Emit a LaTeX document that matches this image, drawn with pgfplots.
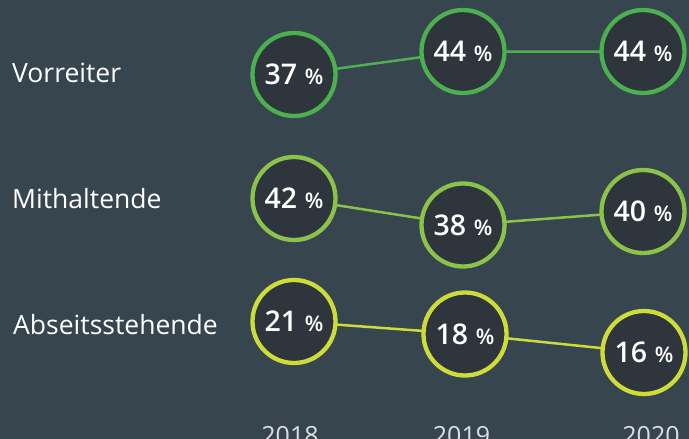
\documentclass[border=0pt]{standalone}
\usepackage{pgfplots}
\pgfplotsset{compat=1.18}
\usepackage{pgfplotstable}
\usepackage{fontspec}
\setmainfont{Open Sans}
\IfFontExistsTF{Open Sans SemiBold}{\newfontfamily\semi{Open Sans SemiBold}}{%
  \IfFontExistsTF{Open Sans Semibold}{\newfontfamily\semi{Open Sans Semibold}}{\newfontfamily\semi{Open Sans}[FakeBold=1.5]}}
\definecolor{bg}{HTML}{37454F}
\definecolor{cf}{HTML}{2E353C}
\definecolor{cA}{HTML}{4CAF50}
\definecolor{cB}{HTML}{8BC34A}
\definecolor{cC}{HTML}{CDDC39}
\definecolor{yr}{HTML}{DCE0E3}

% x = horizontal position of year, y = vertical position (px from top), v = value in %
\pgfplotstableread{
x y v
294 74.5 37
463 51.5 44
643 51.5 44
}\vorreiter
\pgfplotstableread{
x y v
294 198.5 42
463 225 38
643 211.5 40
}\mithaltende
\pgfplotstableread{
x y v
294 321.5 21
465 334 18
644 352.5 16
}\abseits

\begin{document}
\begin{tikzpicture}
\useasboundingbox (0,0) rectangle (689pt,439pt);
\clip (0,0) rectangle (689pt,439pt);
\fill[bg] (0,0) rectangle (689pt,439pt);
\begin{axis}[
  at={(0,0)}, anchor=south west,
  scale only axis, width=689pt, height=439pt,
  xmin=0, xmax=689, ymin=0, ymax=439, y dir=reverse,
  axis lines=none, clip=false,
  point meta=explicit symbolic,
  nodes near coords={\semi\fontsize{28.5}{28.5}\selectfont\pgfplotspointmeta\hspace{0.27em}{\fontsize{21.5}{21.5}\selectfont\%}},
  nodes near coords align=center,
  every node near coord/.append style={text=white, inner sep=0pt},
]
\addplot[cA, line width=2.5pt, mark=*, mark size=41.5pt, mark options={draw=cA, fill=cf, line width=4.3pt}] table[x=x,y=y,meta=v]{\vorreiter};
\addplot[cB, line width=2.5pt, mark=*, mark size=41.5pt, mark options={draw=cB, fill=cf, line width=4.3pt}] table[x=x,y=y,meta=v]{\mithaltende};
\addplot[cC, line width=2.5pt, mark=*, mark size=41.5pt, mark options={draw=cC, fill=cf, line width=4.3pt}] table[x=x,y=y,meta=v]{\abseits};

\node[anchor=base west, text=white, inner sep=0pt, font=\fontsize{26.5}{26.5}\selectfont] at (axis cs:12,82) {Vorreiter};
\node[anchor=base west, text=white, inner sep=0pt, font=\fontsize{26.5}{26.5}\selectfont] at (axis cs:12,208) {Mithaltende};
\node[anchor=base west, text=white, inner sep=0pt, font=\fontsize{26.5}{26.5}\selectfont] at (axis cs:13,334) {Abseitsstehende};

\node[anchor=base, text=yr, inner sep=0pt, font=\fontsize{25}{25}\selectfont] at (axis cs:290,444) {2018};
\node[anchor=base, text=yr, inner sep=0pt, font=\fontsize{25}{25}\selectfont] at (axis cs:461.5,444) {2019};
\node[anchor=base, text=yr, inner sep=0pt, font=\fontsize{25}{25}\selectfont] at (axis cs:651,444) {2020};
\end{axis}
\end{tikzpicture}
\end{document}
